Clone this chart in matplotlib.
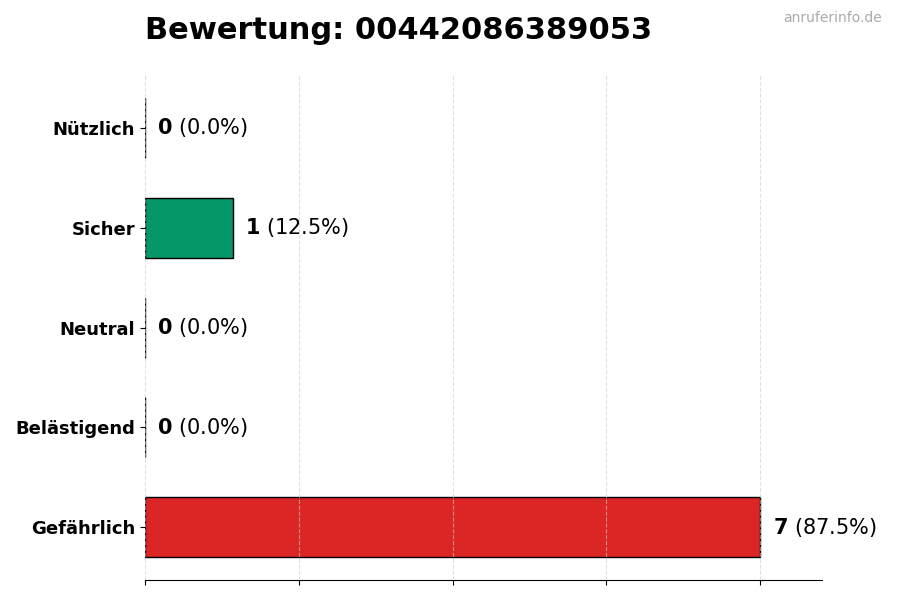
import numpy as np
import matplotlib.pyplot as plt

number = "00442086389053"
categories = ["Gefährlich", "Belästigend", "Neutral", "Sicher", "Nützlich"]
counts = [7, 0, 0, 1, 0]
colors = ["#dc2626", "#f97316", "#9ca3af", "#059669", "#2563eb"]

total = sum(counts)
y = np.arange(len(categories))

fig, ax = plt.subplots(figsize=(9, 6), dpi=100)
fig.subplots_adjust(left=0.161, right=0.913, top=0.875, bottom=0.033)

ax.barh(y, counts, height=0.6, color=colors, edgecolor="black", linewidth=1)

for yi, c in zip(y, counts):
    pct = c / total * 100
    ax.annotate(f"$\\bf{{{c}}}$ ({pct:.1f}%)", (c, yi), xytext=(9, 0),
                textcoords="offset points", va="center", ha="left", fontsize=15)

ax.set_yticks(y)
ax.set_yticklabels(categories, fontsize=13, fontweight="bold")
ax.set_xlim(0, max(counts) * 1.1)
ax.set_xticks(np.linspace(0, max(counts), 5))
ax.set_xticklabels([])
ax.grid(axis="x", linestyle="--", color="#cccccc", alpha=0.6)
ax.set_axisbelow(False)
for side in ["top", "right", "left"]:
    ax.spines[side].set_visible(False)

fig.text(0.161, 0.949, f"Bewertung: {number}", fontsize=22, fontweight="bold",
         ha="left", va="center")
fig.text(0.98, 0.97, "anruferinfo.de", fontsize=10, color="#aaaaaa",
         ha="right", va="center")

plt.savefig("out.png", dpi=100)
